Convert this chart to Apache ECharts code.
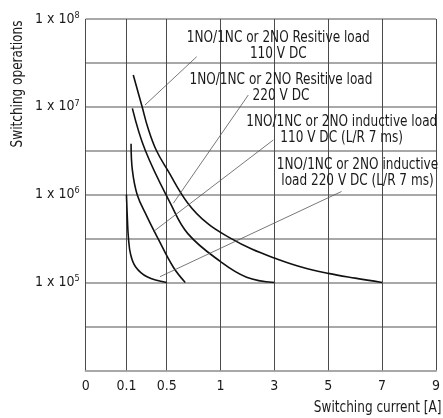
<!DOCTYPE html>
<html><head><meta charset="utf-8">
<script src="https://cdn.jsdelivr.net/npm/echarts@6/dist/echarts.min.js"></script>
<style>html,body{margin:0;padding:0;background:#fff}#c{width:443px;height:418px}</style>
</head><body><div id="c"></div>
<script>
// ---- data ----
const xTickValues = [0, 0.1, 0.5, 1, 3, 5, 7, 9];
const xTickLabels = ['0', '0.1', '0.5', '1', '3', '5', '7', '9'];
const yTickExponents = [5, 6, 7, 8];

const res110Current = [0.168, 0.256, 0.315, 0.397, 0.509, 0.697, 0.88, 1.37, 2.16, 3, 4, 5, 6, 7];
const res110Ops     = [2.3e7, 1.0e7, 5.7e6, 3.2e6, 1.9e6, 8.0e5, 4.7e5, 3.2e5, 2.4e5, 1.9e5, 1.5e5, 1.27e5, 1.12e5, 1e5];

const res220Current = [0.159, 0.287, 0.534, 0.697, 1.004, 1.97, 3];
const res220Ops     = [9.6e6, 3.2e6, 8.0e5, 3.6e5, 1.73e5, 1.15e5, 1e5];

const ind110Current = [0.146, 0.159, 0.207, 0.302, 0.412, 0.561, 0.673];
const ind110Ops     = [3.8e6, 1.9e6, 1.0e6, 5.7e5, 3.2e5, 1.5e5, 1e5];

const ind220Current = [0.1, 0.110, 0.120, 0.141, 0.192, 0.305, 0.5];
const ind220Ops     = [1.0e6, 5.1e5, 3.2e5, 2.1e5, 1.5e5, 1.16e5, 1e5];

// ---- axis scale (non-uniform current axis as drawn in the original) ----
const xTickSlot = [0, 0.756, 1.502, 2.5, 3.5, 4.5, 5.5, 6.5];
function toPos(a) {
  for (let i = 1; i < xTickValues.length; i++) {
    if (a <= xTickValues[i]) {
      const f = (a - xTickValues[i - 1]) / (xTickValues[i] - xTickValues[i - 1]);
      return xTickSlot[i - 1] + f * (xTickSlot[i] - xTickSlot[i - 1]);
    }
  }
  return xTickSlot[xTickSlot.length - 1];
}
function pts(cur, ops) { return cur.map((c, i) => [toPos(c), Math.log10(ops[i])]); }

const FONT = '"Liberation Sans Narrow","Arial Narrow","DejaVu Sans Condensed",sans-serif';
const TXT = '#1a1a1a';
const SX = 0.84;

const chart = echarts.init(document.getElementById('c'));
const curveStyle = { color: '#111', width: 1.6 };
function curve(name, cur, ops) {
  return { name, type: 'line', data: pts(cur, ops), smooth: 0.4, showSymbol: false, symbol: 'none',
    lineStyle: curveStyle, silent: true, z: 5 };
}
function label(x, y, text) {
  return { type: 'text', x: x, y: y, scaleX: SX, z: 10,
    style: { text: text, align: 'center', verticalAlign: 'middle', font: '16px ' + FONT, fill: TXT, lineHeight: 16 } };
}
function leader(x1, y1, x2, y2) {
  return { type: 'line', z: 10, shape: { x1, y1, x2, y2 }, style: { stroke: '#555', lineWidth: 0.8 } };
}

const option = {
  animation: false,
  grid: { left: 85.7, right: 0, top: 19, bottom: 47.7 },
  xAxis: {
    type: 'value', min: 0, max: 6.5,
    splitLine: { show: false },
    axisLine: { show: true, lineStyle: { color: '#a8a8a8', width: 2 } },
    axisTick: { show: false },
    axisLabel: {
      customValues: xTickValues.map(toPos),
      margin: 9, fontSize: 14, fontFamily: FONT, color: TXT,
      formatter: function (v) {
        let best = 0;
        xTickSlot.forEach((s, i) => { if (Math.abs(s - v) < Math.abs(xTickSlot[best] - v)) best = i; });
        return xTickLabels[best];
      }
    }
  },
  yAxis: {
    type: 'value', min: 4, max: 8, interval: 0.5,
    axisLine: { show: false }, axisTick: { show: false },
    splitLine: { show: true, lineStyle: { color: '#a8a8a8', width: 2 } },
    axisLabel: {
      margin: 6,
      formatter: function (v) {
        if (Math.abs(v - Math.round(v)) > 1e-6) return '';
        const e = Math.round(v);
        if (yTickExponents.indexOf(e) < 0) return '';
        return '{b|1 x 10}{s|' + e + '}';
      },
      rich: {
        b: { fontSize: 14, fontFamily: FONT, color: TXT, lineHeight: 16 },
        s: { fontSize: 9, fontFamily: FONT, color: TXT, verticalAlign: 'top', lineHeight: 9 }
      }
    }
  },
  series: [
    { type: 'line', data: [], silent: true, z: 2,
      markLine: { silent: true, symbol: ['none', 'none'], animation: false,
        label: { show: false },
        lineStyle: { color: '#4a4a4a', width: 1, type: 'solid' },
        data: xTickValues.map(v => ({ xAxis: toPos(v) })) } },
    curve('Resistive 110 V DC', res110Current, res110Ops),
    curve('Resistive 220 V DC', res220Current, res220Ops),
    curve('Inductive 110 V DC', ind110Current, ind110Ops),
    curve('Inductive 220 V DC', ind220Current, ind220Ops)
  ],
  graphic: [
    label(278.3, 46, '1NO/1NC or 2NO Resitive load\n110 V DC'),
    label(281, 88, '1NO/1NC or 2NO Resitive load\n220 V DC'),
    label(341.7, 129.5, '1NO/1NC or 2NO inductive load\n110 V DC (L/R 7 ms)'),
    label(357.5, 173, '1NO/1NC or 2NO inductive\nload 220 V DC (L/R 7 ms)'),
    leader(196.7, 56.7, 145, 105),
    leader(248.3, 95, 173.3, 203.3),
    leader(273.3, 140, 153.3, 231.7),
    leader(341.5, 191.5, 160, 276.7),
    { type: 'text', x: 18, y: 84, rotation: Math.PI / 2, scaleX: SX,
      style: { text: 'Switching operations', align: 'center', verticalAlign: 'middle', font: '16px ' + FONT, fill: TXT } },
    { type: 'text', x: 441.5, y: 408, scaleX: SX,
      style: { text: 'Switching current [A]', align: 'right', verticalAlign: 'middle', font: '16px ' + FONT, fill: TXT } }
  ]
};
chart.setOption(option);
</script>
</body></html>
